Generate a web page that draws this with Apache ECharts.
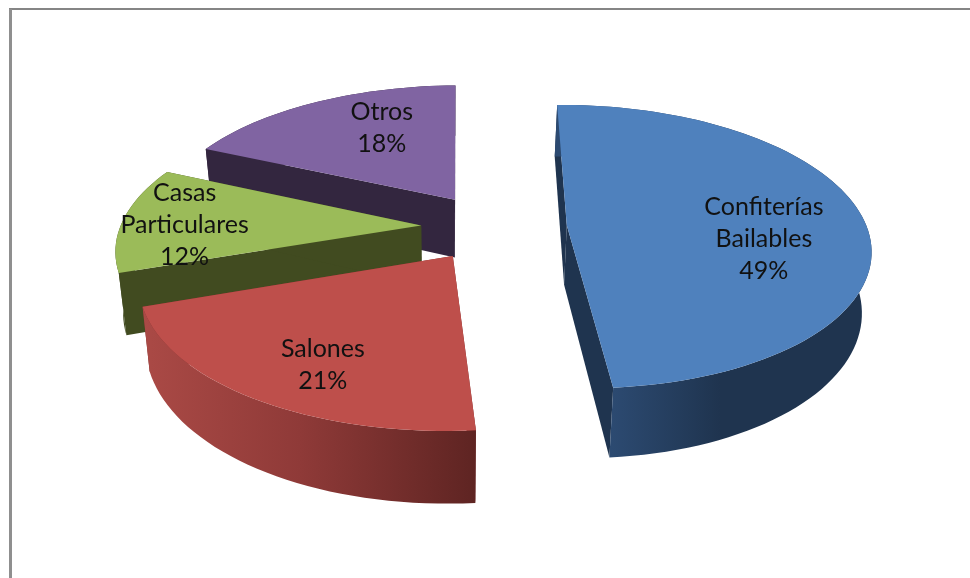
<!DOCTYPE html>
<html>
<head>
<meta charset="utf-8">
<style>html,body{margin:0;padding:0;background:#fff;overflow:hidden}#c{width:970px;height:578px}</style>
<script src="https://cdn.jsdelivr.net/npm/echarts@6/dist/echarts.min.js"></script>
</head>
<body>
<div id="c"></div>
<script>
const categories = ['Confiterías\nBailables', 'Salones', 'Casas\nParticulares', 'Otros'];
const values = [49, 21, 12, 18];

const topColors = ['#4f81bd', '#be4f4b', '#9bbb59', '#8064a2'];
const faceColors = ['#1f344f', '#7a2f2d', '#414b20', '#33263f'];
const wallStops = [
  [[612, '#2c4a71'], [720, '#1f344f'], [870, '#1f344f']],
  [[140, '#ab4a46'], [300, '#8f3a38'], [477, '#5e2422']],
  [[110, '#414b20'], [170, '#414b20']],
  [[200, '#33263f'], [460, '#33263f']]
];
const drawRank = [2, 4, 3, 1];
const labelRadius = [0.66, 0.76, 0.77, 0.6];
const labelNudge = [[1, 18], [17, 5], [-7, 4], [14, -11]];
const arcShift = [5, 1, 0, 0];
const arcScale = [0.98, 1, 1, 1];

const view = { cx: 494, cy: 227, radius: 301, explode: 73, tilt: 139, persp: 0.15,
               depth: 59.5, floor: 0.977, floorCx: 450, start: -1 };

function project(u, v) {
  const s = 1 / (1 - view.persp * v);
  return { x: view.cx + u * s, y: view.cy + view.tilt * v * s, s: s };
}
function bottomOf(p) {
  return [view.floorCx + (p.x - view.floorCx) * view.floor, p.y + view.depth * p.s];
}
function polar(deg) {
  const a = deg * Math.PI / 180;
  return [Math.sin(a), -Math.cos(a)];
}

const total = values.reduce((a, b) => a + b, 0);
const startAngles = [];
values.reduce((acc, v, i) => { startAngles[i] = acc; return acc + v / total * 360; }, view.start);

function renderItem(params, api) {
  const i = params.dataIndex;
  const sweep = api.value(0) / total * 360;
  const a0 = startAngles[i], mid = a0 + sweep / 2;
  const dir = polar(mid);
  const apexU = dir[0] * view.explode, apexV = dir[1] * view.explode / view.radius;
  const apex = project(apexU, apexV);
  const at = (deg, r) => {
    const d = polar(deg);
    return project(apexU + arcShift[i] * r + d[0] * view.radius * arcScale[i] * r, apexV + d[1] * r);
  };
  const arc = [];
  const n = Math.max(2, Math.ceil(sweep / 2));
  for (let k = 0; k <= n; k++) arc.push(at(a0 + sweep * k / n, 1));

  const xy = p => [p.x, p.y];
  const rank = drawRank[i] * 10;
  const face = (p, q, z) => ({
    type: 'polygon', z2: rank + z,
    shape: { points: [xy(p), xy(q), bottomOf(q), bottomOf(p)] },
    style: { fill: faceColors[i] }
  });
  const stops = wallStops[i];
  const x0 = stops[0][0], x1 = stops[stops.length - 1][0];
  const fill = new echarts.graphic.LinearGradient(x0, 0, x1, 0,
    stops.map(s => ({ offset: (s[0] - x0) / (x1 - x0), color: s[1] })), true);
  const wall = {
    type: 'polygon', z2: rank + 2,
    shape: { points: arc.map(xy).concat(arc.slice().reverse().map(bottomOf)) },
    style: { fill: fill }
  };
  const topFace = {
    type: 'polygon', z2: rank + 3,
    shape: { points: [xy(apex)].concat(arc.map(xy)) },
    style: { fill: topColors[i] }
  };
  const lp = at(mid, labelRadius[i]);
  const label = {
    type: 'text', z2: 200,
    style: {
      x: lp.x + labelNudge[i][0], y: lp.y + labelNudge[i][1],
      text: categories[i] + '\n' + api.value(0) + '%',
      fill: '#111', fontFamily: 'Lato', fontSize: 25, lineHeight: 32,
      align: 'center', verticalAlign: 'middle'
    }
  };
  return { type: 'group', children: [
    face(apex, arc[0], 0), face(apex, arc[arc.length - 1], 1), wall, topFace, label
  ] };
}

const chart = echarts.init(document.getElementById('c'), null, { renderer: 'canvas' });
chart.setOption({
  animation: false,
  backgroundColor: '#ffffff',
  graphic: [
    { type: 'line', shape: { x1: 9, y1: 9, x2: 970, y2: 9 }, style: { stroke: '#858585', lineWidth: 2 } },
    { type: 'line', shape: { x1: 10.5, y1: 9, x2: 10.5, y2: 578 }, style: { stroke: '#8f8f8f', lineWidth: 3 } }
  ],
  series: [{
    type: 'custom',
    coordinateSystem: 'none',
    silent: true,
    data: values.map(v => [v]),
    renderItem: renderItem
  }]
});
</script>
</body>
</html>
